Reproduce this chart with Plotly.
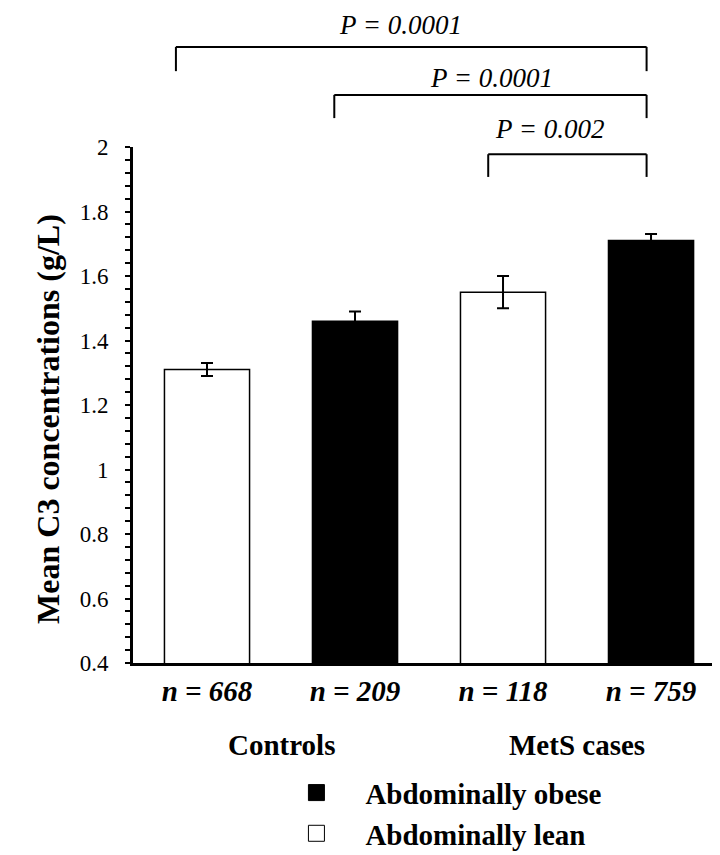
import plotly.graph_objects as go

# ---- data ----
categories = ["n = 668", "n = 209", "n = 118", "n = 759"]
group_labels = ["Controls", "MetS cases"]
lean_idx = [0, 2]
obese_idx = [1, 3]
means = [1.31, 1.46, 1.55, 1.71]
errors = [0.02, 0.03, 0.05, 0.02]
p_labels = ["P = 0.0001", "P = 0.0001", "P = 0.002"]
y_ticks = [0.4, 0.6, 0.8, 1.0, 1.2, 1.4, 1.6, 1.8, 2.0]
y_tick_labels = ["0.4", "0.6", "0.8", "1", "1.2", "1.4", "1.6", "1.8", "2"]
legend_names = ["Abdominally obese", "Abdominally lean"]
y_title = "Mean C3 concentrations (g/L)"

# ---- layout constants (positions only) ----
FONT = "Liberation Serif, Times New Roman, serif"
# bracket: (x_left, x_right, y_top_paper, y_bottom_paper)
brackets = [(-0.21, 2.97, 1.194, 1.147),
            (0.86, 2.97, 1.101, 1.056),
            (1.90, 2.97, 0.986, 0.942)]
p_pos = [(1.304, 1.236), (1.919, 1.134), (2.311, 1.035)]
group_pos = [0.5, 2.5]

fig = go.Figure()

fig.add_trace(go.Bar(
    x=[categories[i] for i in lean_idx],
    y=[means[i] for i in lean_idx],
    error_y=dict(type="data", array=[errors[i] for i in lean_idx],
                 color="black", thickness=2, width=6),
    marker=dict(color="white", line=dict(color="black", width=1.5)),
    width=0.575, showlegend=False, name=legend_names[1],
))
fig.add_trace(go.Bar(
    x=[categories[i] for i in obese_idx],
    y=[means[i] for i in obese_idx],
    error_y=dict(type="data", array=[errors[i] for i in obese_idx],
                 color="black", thickness=2, width=6),
    marker=dict(color="black", line=dict(color="black", width=1.5)),
    width=0.575, showlegend=False, name=legend_names[0],
))

# legend entries
fig.add_trace(go.Scatter(
    x=[None], y=[None], mode="markers", name=legend_names[0],
    marker=dict(symbol="square", size=16, color="black",
                line=dict(color="black", width=1)),
))
fig.add_trace(go.Scatter(
    x=[None], y=[None], mode="markers", name=legend_names[1],
    marker=dict(symbol="square", size=16, color="white",
                line=dict(color="black", width=1)),
))

shapes = []
for x0, x1, yt, yb in brackets:
    for (ax0, ay0, ax1, ay1) in [(x0, yb, x0, yt), (x0, yt, x1, yt), (x1, yt, x1, yb)]:
        shapes.append(dict(type="line", xref="x", yref="paper",
                           x0=ax0, y0=ay0, x1=ax1, y1=ay1,
                           line=dict(color="black", width=2)))

annotations = []
for (px, py), txt in zip(p_pos, p_labels):
    annotations.append(dict(x=px, y=py, xref="x", yref="paper", text=txt,
                            showarrow=False, xanchor="center", yanchor="middle",
                            font=dict(family=FONT, size=27, color="black", style="italic")))
for gx, txt in zip(group_pos, group_labels):
    annotations.append(dict(x=gx, y=-0.158, xref="x", yref="paper", text=txt,
                            showarrow=False, xanchor="center", yanchor="middle",
                            font=dict(family=FONT, size=29, color="black", weight="bold")))
# y-axis title
annotations.append(dict(x=-0.1448, y=0.473, xref="paper", yref="paper", text=y_title,
                        textangle=-90, showarrow=False, xanchor="center", yanchor="middle",
                        font=dict(family=FONT, size=32, color="black", weight="bold")))

fig.update_layout(
    width=720, height=855,
    margin=dict(l=125, r=8, t=139, b=200, autoexpand=False),
    paper_bgcolor="white", plot_bgcolor="white",
    barmode="overlay",
    font=dict(family=FONT, color="black"),
    shapes=shapes, annotations=annotations,
    legend=dict(x=0.229, y=-0.202, xanchor="left", yanchor="top",
                font=dict(family=FONT, size=29, color="black", weight="bold"),
                itemwidth=88, tracegroupgap=0, bgcolor="rgba(0,0,0,0)"),
    xaxis=dict(type="category", categoryorder="array", categoryarray=categories,
               range=[-0.5, 3.466], showline=True, linewidth=3, linecolor="black",
               ticks="", showgrid=False, zeroline=False, ticklabelstandoff=0,
               tickfont=dict(family=FONT, size=29, color="black",
                             weight="bold", style="italic")),
    yaxis=dict(range=[0.4, 2.0], tickmode="array", tickvals=y_ticks, ticktext=y_tick_labels,
               ticks="outside", ticklen=5, tickwidth=2, tickcolor="black",
               showline=True, linewidth=3, linecolor="black",
               showgrid=False, zeroline=False, ticklabelstandoff=12,
               tickfont=dict(family=FONT, size=23, color="black"),
               minor=dict(tickmode="linear", tick0=0.4, dtick=0.04, ticks="outside",
                          ticklen=5, tickwidth=2, tickcolor="black")),
)

fig.write_html("out.html")
